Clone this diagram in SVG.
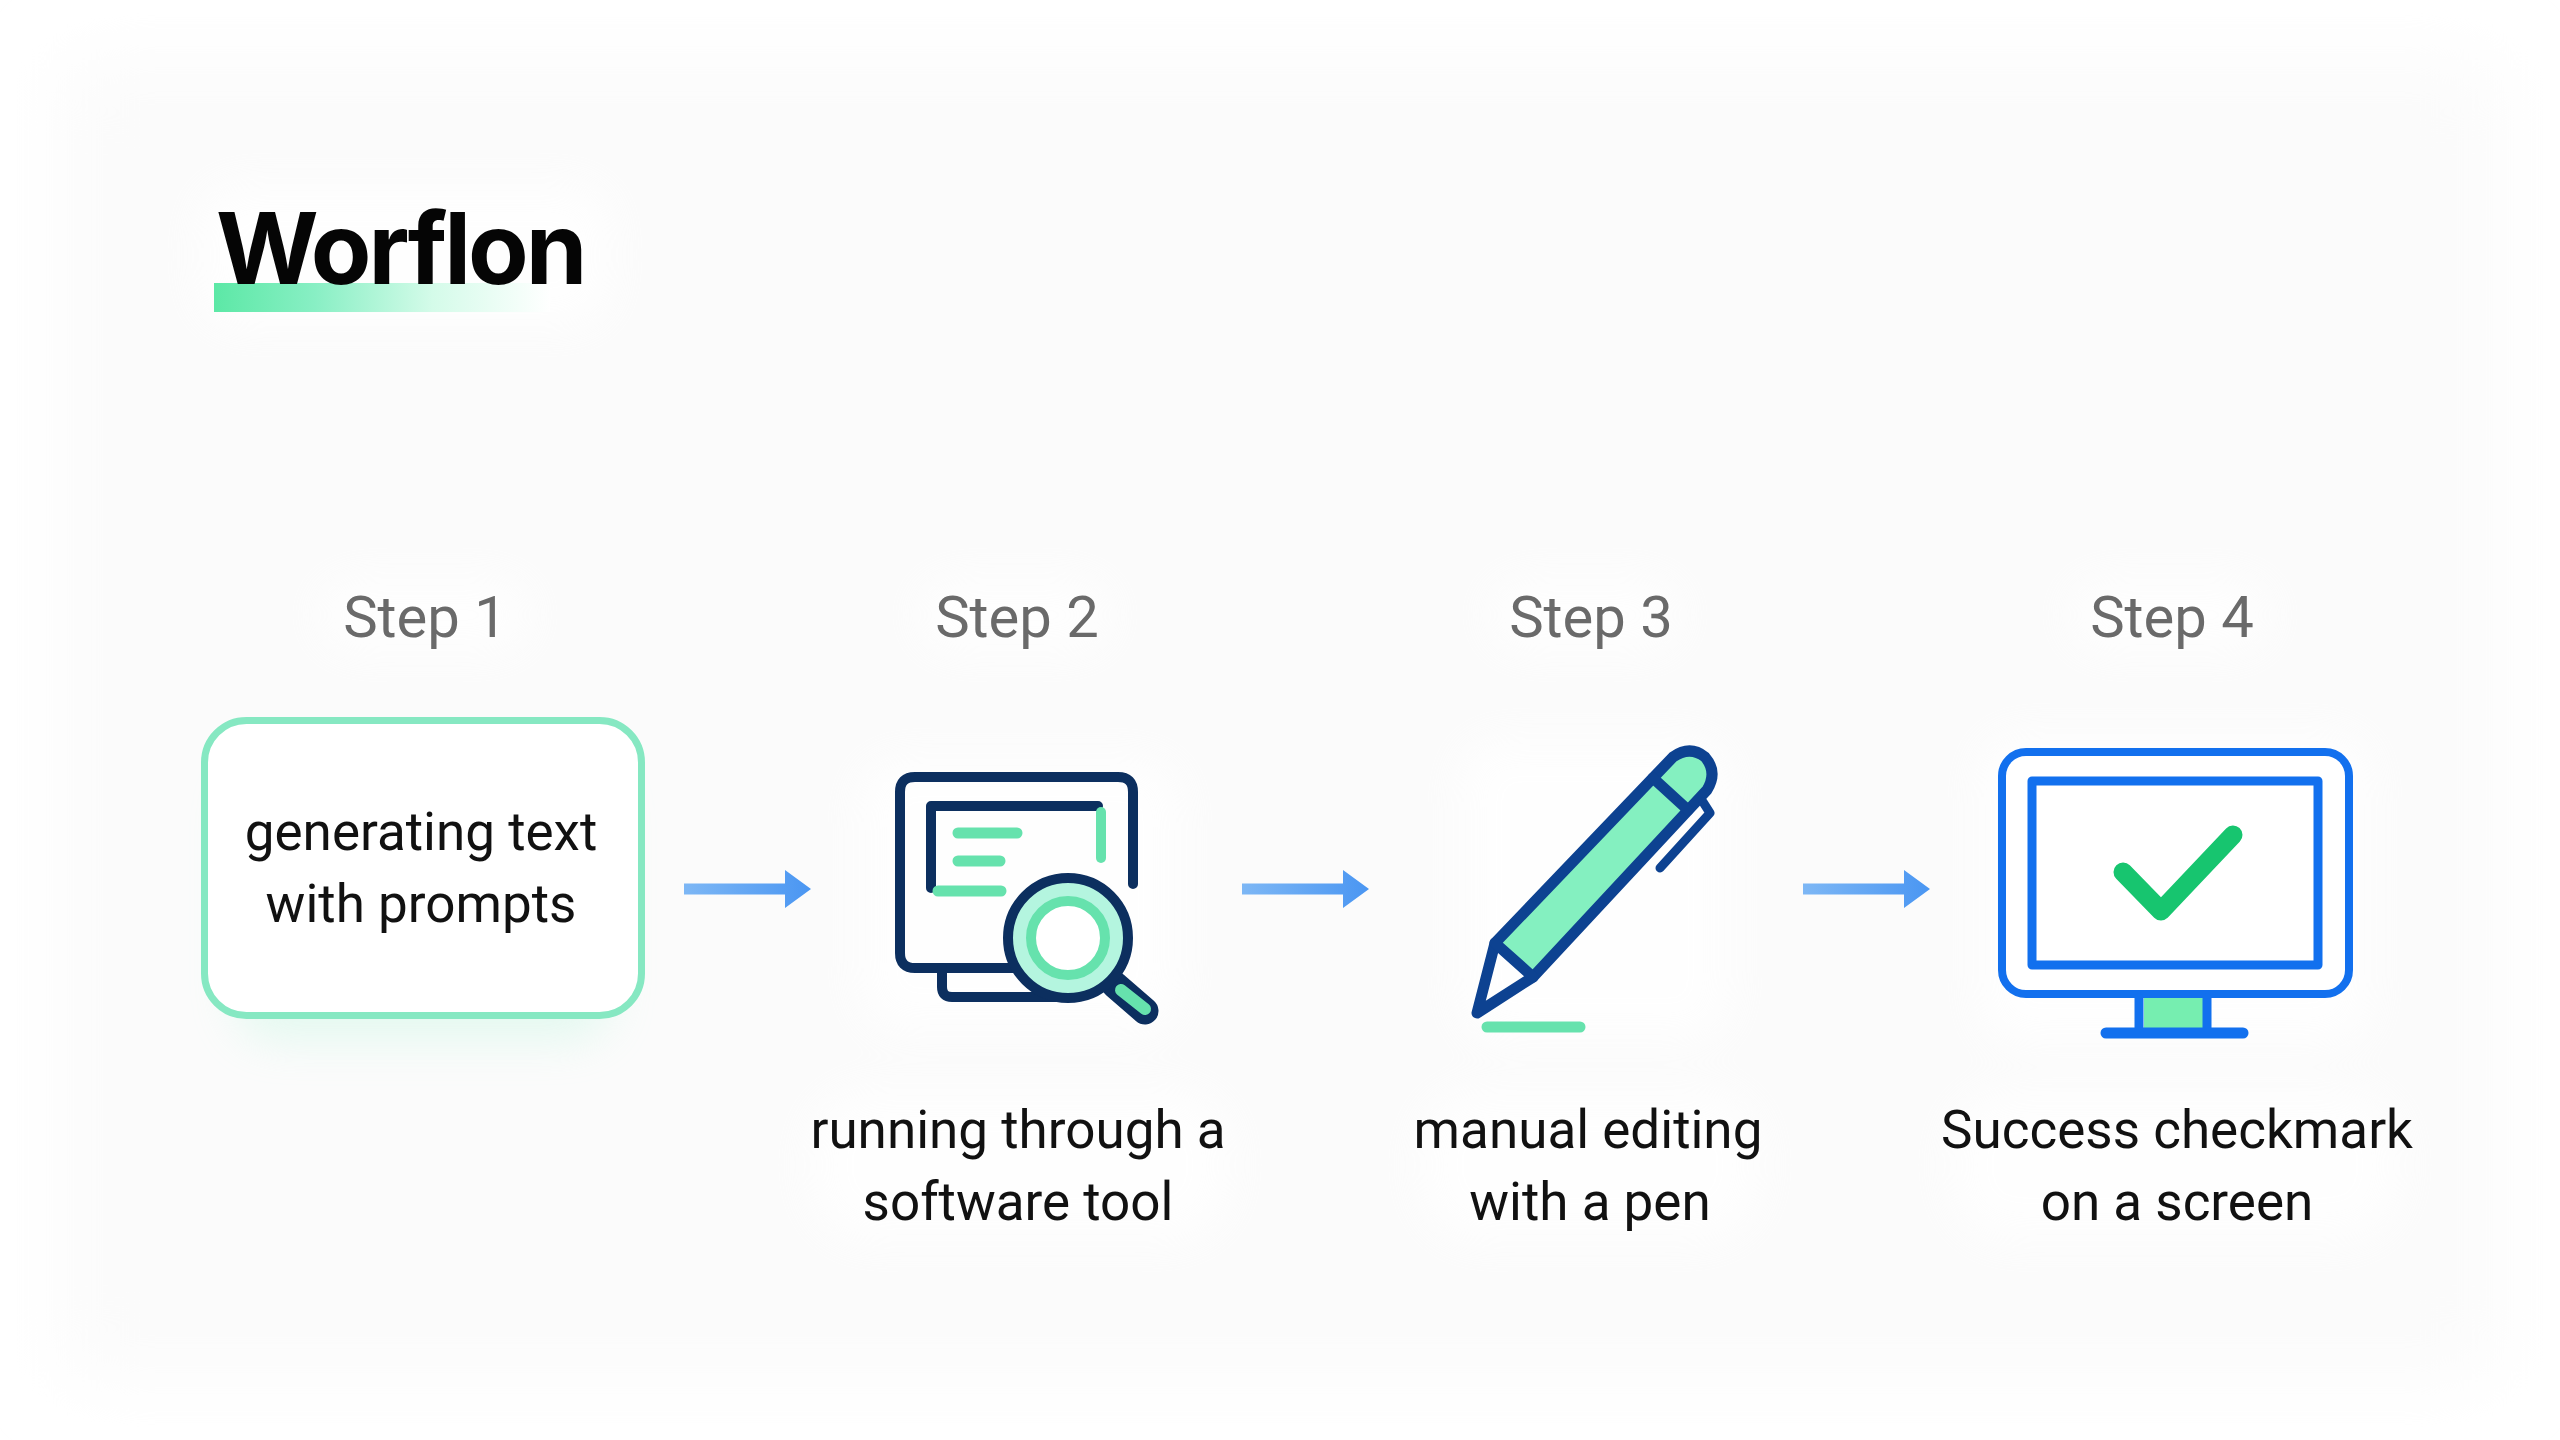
<svg xmlns="http://www.w3.org/2000/svg" width="2560" height="1440" viewBox="0 0 2560 1440">
<style>
.t{font-family:Roboto,"Noto Sans",sans-serif;font-size:53px;fill:#111;text-anchor:middle}
.s{font-family:Roboto,"Noto Sans",sans-serif;font-size:58px;fill:#6a6a6a;text-anchor:middle}
.n{fill:none;stroke-linecap:round;stroke-linejoin:round}
.d{stroke:#0c2f5f;stroke-width:10}
.g{stroke:#66e2ad;stroke-linecap:round;fill:none}
.p{stroke:#0d4291;stroke-width:11}
.b{stroke:#1270ee}
</style>
<defs>
<linearGradient id="ul" x1="0" x2="1"><stop offset="0" stop-color="#5ce8a6"/><stop offset=".3" stop-color="#88efc4"/><stop offset=".65" stop-color="#d4fbe9"/><stop offset="1" stop-color="#ffffff"/></linearGradient>
<linearGradient id="ar" x1="0" x2="1"><stop offset="0" stop-color="#7db7f5"/><stop offset="1" stop-color="#4a96f2"/></linearGradient>
<filter id="blur" x="-30%" y="-30%" width="160%" height="160%"><feGaussianBlur stdDeviation="22"/></filter>
<filter id="blur2" x="-30%" y="-30%" width="160%" height="160%"><feGaussianBlur stdDeviation="40"/></filter>
<path id="arrow" d="M0,-5.500H101V-19L127,0L101,19V5.500H0Z" fill="url(#ar)"/>
</defs>
<rect width="2560" height="1440" fill="#ffffff"/>
<rect x="60" y="60" width="2440" height="1320" fill="#fbfbfb" filter="url(#blur2)"/>
<g id="halos" fill="#ffffff" filter="url(#blur)" opacity=".8">
<rect x="200" y="185" width="410" height="140" rx="40"/>
<rect x="320" y="580" width="210" height="70" rx="35"/>
<rect x="920" y="580" width="190" height="70" rx="35"/>
<rect x="1490" y="580" width="190" height="70" rx="35"/>
<rect x="2070" y="580" width="200" height="70" rx="35"/>
<rect x="860" y="760" width="320" height="270" rx="40"/>
<rect x="1460" y="740" width="270" height="300" rx="40"/>
<rect x="1980" y="735" width="390" height="310" rx="40"/>
<rect x="810" y="1090" width="420" height="150" rx="60"/>
<rect x="1420" y="1090" width="340" height="150" rx="60"/>
<rect x="1950" y="1090" width="450" height="150" rx="60"/>
</g>
<g id="title">
<rect x="214" y="283" width="336" height="29" fill="url(#ul)"/>
<text x="216" y="284" font-family="Inter,'Liberation Sans',sans-serif" font-weight="700" font-size="99" fill="#050505" style="font-variant-ligatures:none" letter-spacing="-3">Worflon</text>
</g>
<g id="connectors">
<use href="#arrow" x="684" y="889"/>
<use href="#arrow" x="1242" y="889"/>
<use href="#arrow" x="1803" y="889"/>
</g>
<g id="step1">
<text class="s" x="425" y="637">Step 1</text>
<rect x="235" y="770" width="376" height="270" rx="40" fill="#b9f5dc" opacity=".35" filter="url(#blur)"/>
<rect x="204.500" y="720.500" width="437" height="295" rx="42" fill="#fff" stroke="#86e8c2" stroke-width="7"/>
<text class="t" x="421" y="850">generating text</text>
<text class="t" x="421" y="922">with prompts</text>
</g>
<g id="step2">
<text class="s" x="1017" y="637">Step 2</text>
<path class="n d" d="M1133,884V792Q1133,777 1118,777H915Q900,777 900,792V953Q900,968 915,968H1015"/>
<path class="n d" d="M942,968V987Q942,997 952,997H1070"/>
<path class="n d" d="M931,888V806H1098"/>
<path class="g" stroke-width="10" d="M1101,812V858"/>
<path class="g" stroke-width="11" d="M958,833H1017M958,861H1000M938,891H1001"/>
<path class="n" stroke="#0c2f5f" stroke-width="27" d="M1115,985L1145,1011"/>
<path class="g" stroke-width="12" d="M1121,990L1145,1009"/>
<circle cx="1068" cy="938" r="60" fill="#b4f5df" stroke="#0c2f5f" stroke-width="10"/>
<circle cx="1068" cy="938" r="37" fill="#fff" stroke="#66e2ad" stroke-width="10"/>
</g>
<g id="step3">
<text class="s" x="1591" y="637">Step 3</text>
<path d="M1495,943L1653,778L1690,810L1533,977Z" fill="#84f0c0"/>
<path d="M1653,778L1673,757Q1690,745 1705,757Q1718,772 1707,790L1690,810Z" fill="#84f0c0"/>
<path class="n p" d="M1477,1013L1495,943L1673,757Q1690,745 1705,757Q1718,772 1707,790L1533,977Z"/>
<path class="n p" d="M1495,943L1533,977M1653,778L1688,810"/>
<path class="n p" d="M1703,802L1710,813L1660,868" style="stroke-width:9"/>
<path class="g" stroke-width="11" d="M1487,1027H1580"/>
</g>
<g id="step4">
<text class="s" x="2172" y="637">Step 4</text>
<rect x="2144" y="998" width="59" height="30" fill="#76eeb0"/>
<rect x="2002" y="752" width="347" height="242" rx="24" fill="#fff" stroke="#1270ee" stroke-width="8"/>
<rect x="2032" y="781" width="286" height="184" fill="#fff" stroke="#1270ee" stroke-width="9" stroke-linejoin="round"/>
<path class="n b" stroke-width="9" d="M2139,998V1033M2207,998V1033"/>
<path class="n b" stroke-width="11" d="M2106,1033H2243"/>
<path class="n" stroke="#17c56f" stroke-width="19" d="M2123,872L2161,911L2233,835"/>
</g>
<g id="captions">
<text class="t" x="1018" y="1148">running through a</text>
<text class="t" x="1018" y="1220">software tool</text>
<text class="t" x="1588" y="1148">manual editing</text>
<text class="t" x="1590" y="1220">with a pen</text>
<text class="t" x="2177" y="1148">Success checkmark</text>
<text class="t" x="2177" y="1220">on a screen</text>
</g>
</svg>
